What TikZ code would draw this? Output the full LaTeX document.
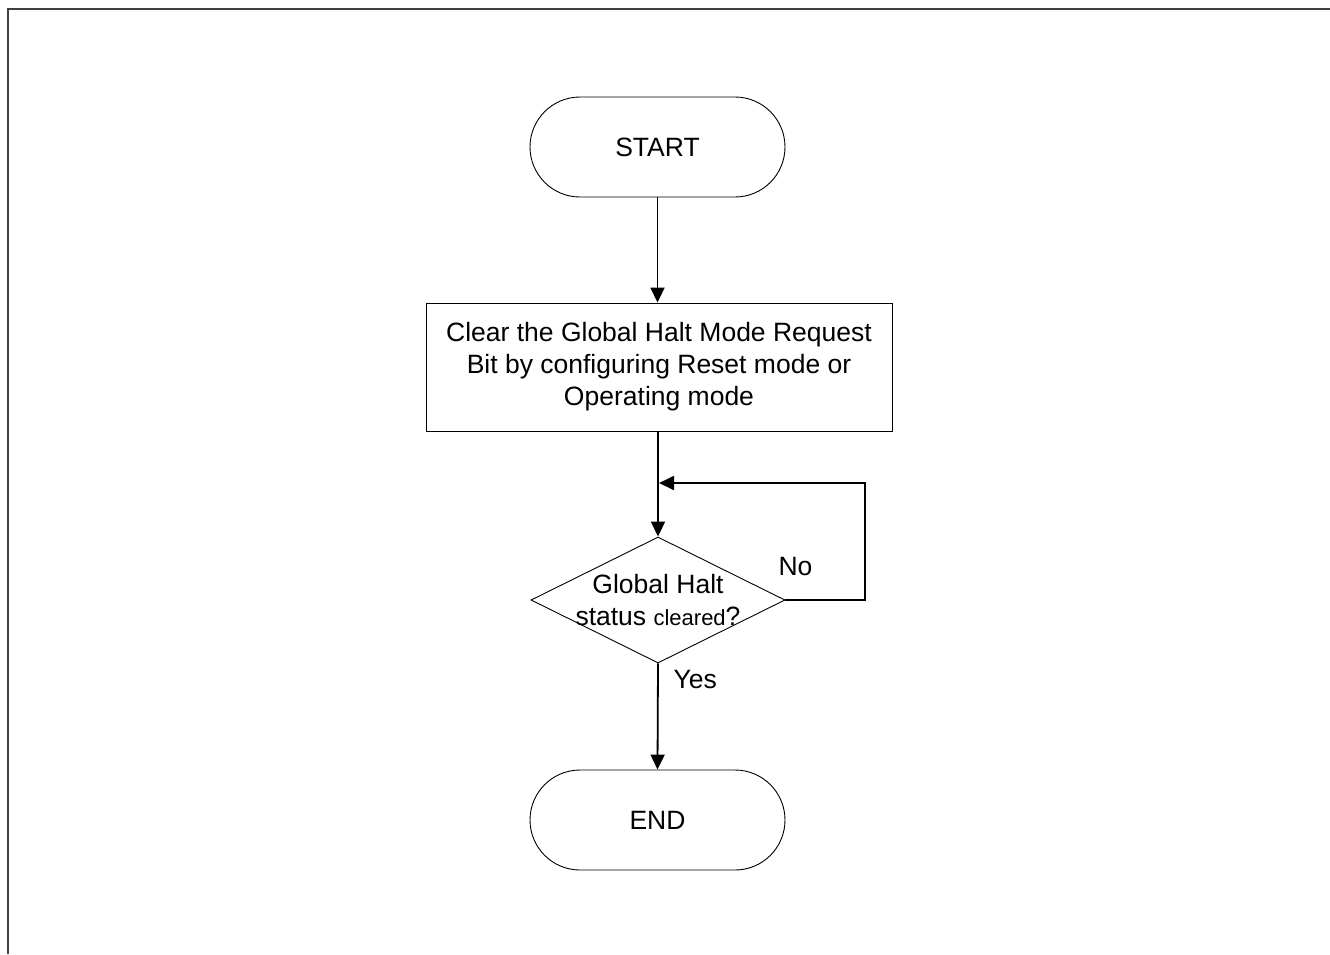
\documentclass[tikz,border=0pt]{standalone}
\usepackage{fontspec}
\setmainfont{Liberation Sans}
\usetikzlibrary{arrows.meta,shapes.geometric}
\begin{document}
\begin{tikzpicture}[x=1pt,y=-1pt,
  term/.style={draw,line width=0.9pt,rounded corners=50pt,minimum width=255pt,minimum height=100pt,inner sep=0pt,font=\fontsize{26.5}{32}\selectfont},
  proc/.style={draw,line width=0.9pt,minimum width=466pt,minimum height=128pt,inner sep=0pt,align=center,font=\fontsize{26.5}{32}\selectfont},
  dec/.style={draw,line width=0.9pt,diamond,aspect=2.02,minimum width=254pt,minimum height=126pt,inner sep=0pt},
  dectext/.style={align=center,inner sep=0pt,font=\fontsize{26.5}{32}\selectfont},
  conn/.style={line width=1.8pt,-{Triangle[length=15pt,width=14pt]}},
  lbl/.style={font=\fontsize{26.5}{32}\selectfont}]
\useasboundingbox (0,0) rectangle (1330,954);
\draw[line width=2.2pt,black!75] (8,954) -- (8,9) -- (1330,9);
\node[term] (start) at (657.5,147) {START};
\node[proc] (clear) at (659,367) {Clear the Global Halt Mode Request\\Bit by configuring Reset mode or\\Operating mode};
\node[dec] (halt) at (658,600) {};
\node[dectext] (halttext) at (halt.center) {Global Halt\\status {\fontsize{22}{32}\selectfont cleared}?};
\node[term] (end) at (657.5,820) {END};
\coordinate (loopA) at (865,600);
\coordinate (loopB) at (865,483);
\coordinate (loopC) at (659,483);
\draw[conn] (start.south) -- (start.south |- clear.north);
\draw[conn] (clear.south -| halt.north) -- (halt.north);
\draw[conn] (halt.east) -- (loopA) -- (loopB) -- (loopC);
\draw[conn] (halt.south) -- (end.north);
\node[lbl,anchor=west] (no) at (775,567) {No};
\node[lbl,anchor=west] (yes) at (670,680) {Yes};
\end{tikzpicture}
\end{document}
